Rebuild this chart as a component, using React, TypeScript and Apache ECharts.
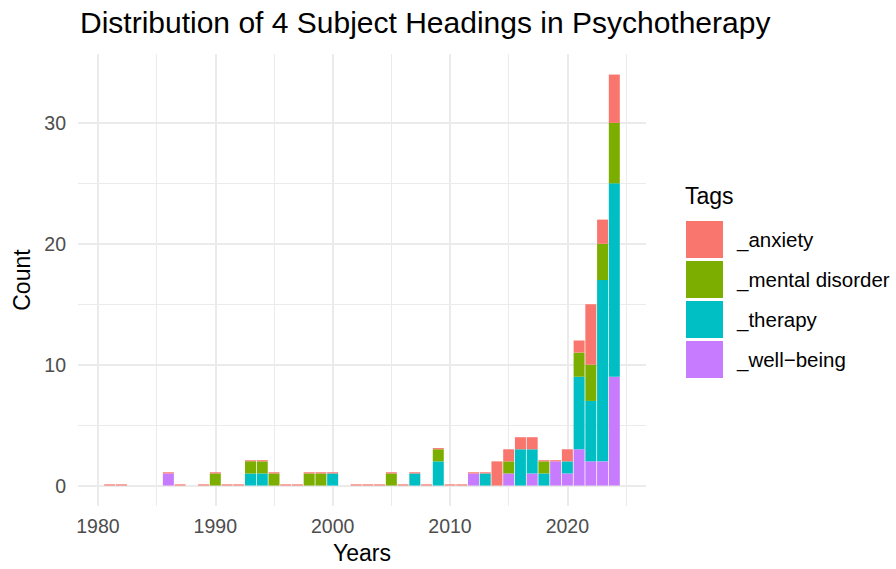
import React, { useEffect, useRef } from "react";
import * as echarts from "echarts";

const years = [1981, 1982, 1986, 1987, 1989, 1990, 1991, 1992, 1993, 1994, 1995, 1996, 1997, 1998, 1999, 2000, 2002, 2003, 2004, 2005, 2006, 2007, 2008, 2009, 2010, 2011, 2012, 2013, 2014, 2015, 2016, 2017, 2018, 2019, 2020, 2021, 2022, 2023, 2024];
const anxiety = [0, 0, 0, 0, 0, 0, 0, 0, 0, 0, 0, 0, 0, 0, 0, 0, 0, 0, 0, 0, 0, 0, 0, 0, 0, 0, 0, 0, 2, 1, 1, 1, 0, 0, 1, 1, 5, 2, 4];
const mentalDisorder = [0, 0, 0, 0, 0, 1, 0, 0, 1, 1, 1, 0, 0, 1, 1, 0, 0, 0, 0, 1, 0, 0, 0, 1, 0, 0, 0, 0, 0, 1, 0, 0, 1, 0, 0, 2, 3, 3, 5];
const therapy = [0, 0, 0, 0, 0, 0, 0, 0, 1, 1, 0, 0, 0, 0, 0, 1, 0, 0, 0, 0, 0, 1, 0, 2, 0, 0, 0, 1, 0, 0, 3, 2, 1, 0, 1, 6, 5, 15, 16];
const wellBeing = [0, 0, 1, 0, 0, 0, 0, 0, 0, 0, 0, 0, 0, 0, 0, 0, 0, 0, 0, 0, 0, 0, 0, 0, 0, 0, 1, 0, 0, 1, 0, 1, 0, 2, 1, 3, 2, 2, 9];

const tagNames = ["_anxiety", "_mental disorder", "_therapy", "_well\u2212being"];
const tagColors = ["#F8766D", "#7CAE00", "#00BFC4", "#C77CFF"];

const xMajor = [1980, 1990, 2000, 2010, 2020];
const xMinor = [1985, 1995, 2005, 2015, 2025];
const yMajor = [0, 10, 20, 30];
const yMinor = [5, 15, 25];

const FONT = "'Liberation Sans', Arial, Helvetica, sans-serif";

export default function App() {
  const ref = useRef<HTMLDivElement>(null);
  useEffect(() => {
    document.body.style.margin = "0";
    if (!ref.current) return;
    const chart = echarts.init(ref.current, undefined, { renderer: "svg" });
    // value first, year second, so that the value dimension is the stacked one
    const toPairs = (vals: number[]) => years.map((y, i) => [vals[i], y]);
    const seriesDefs = [
      { name: tagNames[3], vals: wellBeing, color: tagColors[3], minH: 0 },
      { name: tagNames[2], vals: therapy, color: tagColors[2], minH: 0 },
      { name: tagNames[1], vals: mentalDisorder, color: tagColors[1], minH: 0 },
      { name: tagNames[0], vals: anxiety, color: tagColors[0], minH: 1.2 },
    ];
    const major = { color: "#EBEBEB", width: 2, type: "solid" as const };
    const minor = { color: "#EBEBEB", width: 1, type: "solid" as const };
    const gridLines = [
      ...xMajor.map((v) => ({ xAxis: v, lineStyle: major })),
      ...xMinor.map((v) => ({ xAxis: v, lineStyle: minor })),
      ...yMajor.map((v) => ({ yAxis: v, lineStyle: major })),
      ...yMinor.map((v) => ({ yAxis: v, lineStyle: minor })),
    ];
    chart.setOption({
      animation: false,
      backgroundColor: "#FFFFFF",
      textStyle: { fontFamily: FONT },
      title: [
        {
          text: "Distribution of 4 Subject Headings in Psychotherapy",
          left: 80,
          top: 7,
          padding: 0,
          textStyle: { fontSize: 30, fontWeight: "normal", color: "#000000", fontFamily: FONT },
        },
        {
          text: "Tags",
          left: 685,
          top: 184,
          padding: 0,
          textStyle: { fontSize: 23, fontWeight: "normal", color: "#000000", fontFamily: FONT },
        },
      ],
      legend: {
        data: tagNames,
        orient: "vertical",
        left: 686,
        top: 221,
        padding: 0,
        itemWidth: 37,
        itemHeight: 37,
        itemGap: 3,
        icon: "rect",
        selectedMode: false,
        textStyle: { fontSize: 20.5, color: "#000000", fontFamily: FONT, padding: [0, 0, 0, 9] },
      },
      grid: { left: 78, right: 250, top: 54, bottom: 60 },
      xAxis: {
        type: "value",
        min: 1978.3,
        max: 2026.7,
        name: "Years",
        nameLocation: "middle",
        nameGap: 32,
        nameTextStyle: { fontSize: 23, color: "#000000", fontFamily: FONT },
        axisLine: { show: false },
        axisTick: { show: false },
        splitLine: { show: false },
        axisLabel: {
          customValues: xMajor,
          formatter: (v: number) => String(v),
          fontSize: 19.5,
          color: "#4D4D4D",
          margin: 10,
          fontFamily: FONT,
        },
      },
      yAxis: {
        type: "value",
        min: -1.7,
        max: 35.7,
        name: "Count",
        nameLocation: "middle",
        nameGap: 44,
        nameTextStyle: { fontSize: 23, color: "#000000", fontFamily: FONT },
        axisLine: { show: false },
        axisTick: { show: false },
        splitLine: { show: false },
        axisLabel: {
          customValues: yMajor,
          formatter: (v: number) => String(v),
          fontSize: 19.5,
          color: "#4D4D4D",
          margin: 12,
          fontFamily: FONT,
        },
      },
      series: [
        {
          name: "grid",
          type: "line",
          data: [],
          silent: true,
          markLine: {
            silent: true,
            z: 0,
            symbol: ["none", "none"],
            label: { show: false },
            emphasis: { disabled: true },
            data: gridLines,
          },
        },
        ...seriesDefs.map((s) => ({
          name: s.name,
          type: "bar",
          stack: "total",
          barWidth: 11,
          barMinHeight: s.minH,
          z: 2,
          encode: { x: 1, y: 0 },
          itemStyle: { color: s.color },
          data: toPairs(s.vals),
        })),
      ],
    });
    return () => chart.dispose();
  }, []);
  return <div ref={ref} style={{ width: 896, height: 569 }} />;
}
